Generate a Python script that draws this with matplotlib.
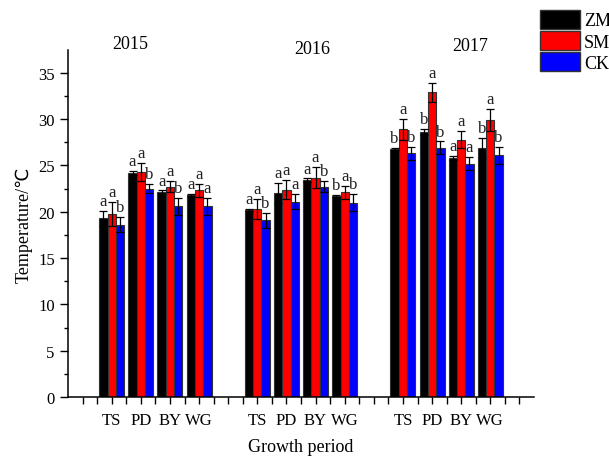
import matplotlib.pyplot as plt
import numpy as np
from matplotlib.patches import Patch

plt.rcParams["font.family"] = ["Liberation Serif", "DejaVu Sans"]

years = ["2015", "2016", "2017"]
periods = ["TS", "PD", "BY", "WG"]
treatments = ["ZM", "SM", "CK"]
colors = ["#000000", "#ff0000", "#0000ff"]

# mean temperature per year, period order TS, PD, BY, WG
zm_mean = [[19.3, 24.2, 22.1, 21.8], [20.2, 22.0, 23.4, 21.7], [26.8, 28.6, 25.8, 26.9]]
sm_mean = [[19.8, 24.3, 22.7, 22.3], [20.3, 22.4, 23.7, 22.1], [28.9, 32.9, 27.8, 29.9]]
ck_mean = [[18.6, 22.5, 20.6, 20.6], [19.1, 21.1, 22.7, 21.0], [26.3, 26.9, 25.2, 26.1]]

zm_sd = [[0.8, 0.2, 0.2, 0.15], [0.1, 1.1, 0.2, 0.1], [0.1, 0.3, 0.2, 1.1]]
sm_sd = [[1.3, 1.0, 0.6, 0.7], [1.1, 1.0, 1.1, 0.7], [1.1, 1.0, 0.9, 1.2]]
ck_sd = [[0.8, 0.5, 0.9, 0.9], [0.8, 0.8, 0.6, 0.9], [0.7, 0.7, 0.7, 0.9]]

zm_sig = [["a", "a", "a", "a"], ["a", "a", "a", "b"], ["b", "b", "a", "b"]]
sm_sig = [["a", "a", "a", "a"], ["a", "a", "a", "a"], ["a", "a", "a", "a"]]
ck_sig = [["b", "b", "b", "a"], ["b", "a", "b", "b"], ["b", "b", "a", "b"]]

means = [zm_mean, sm_mean, ck_mean]
sds = [zm_sd, sm_sd, ck_sd]
sigs = [zm_sig, sm_sig, ck_sig]

# category positions on the x axis: 4 periods per year, gaps between years
year_start = [3, 13, 23]
year_title_x = [4.3, 16.8, 27.6]
year_title_y = [37.2, 36.7, 37.0]
width = 0.57
offsets = [-width, 0.0, width]

fig = plt.figure(figsize=(6.09, 4.6), dpi=100)
ax = fig.add_axes([68 / 609, 62 / 460, 466 / 609, 347.3 / 460])

tick_pos, tick_lab = [], []
for yi, year in enumerate(years):
    x = year_start[yi] + 2 * np.arange(len(periods))
    tick_pos += list(x)
    tick_lab += periods
    for ti in range(3):
        m = np.array(means[ti][yi])
        s = np.array(sds[ti][yi])
        xb = x + offsets[ti]
        ax.bar(xb, m, width=width, color=colors[ti], edgecolor="#333333", linewidth=0.8, zorder=2)
        ax.errorbar(xb, m, yerr=s, fmt="none", ecolor="black", elinewidth=0.9,
                    capsize=3, capthick=0.9, zorder=3)
        for xx, top, lab in zip(xb, m + s, sigs[ti][yi]):
            ax.text(xx, top + 0.2, lab, ha="center", va="bottom", fontsize=12, color="#222222")
    ax.text(year_title_x[yi], year_title_y[yi], year, ha="center", va="bottom", fontsize=13,
            clip_on=False)

ax.set_xlim(0, 32)
ax.set_ylim(0, 37.5)
ax.set_xticks(range(1, 32))
ax.set_xticklabels([tick_lab[tick_pos.index(i)] if i in tick_pos else "" for i in range(1, 32)],
                   fontsize=12)
ax.set_yticks(np.arange(0, 36, 5))
ax.set_yticks(np.arange(2.5, 37.5, 5), minor=True)
ax.tick_params(axis="y", which="major", length=6, width=1, labelsize=12)
ax.tick_params(axis="y", which="minor", length=3, width=1)
ax.tick_params(axis="x", length=5, width=1, pad=6)
for side in ["top", "right"]:
    ax.spines[side].set_visible(False)
for side in ["left", "bottom"]:
    ax.spines[side].set_linewidth(1.1)

ax.set_ylabel("Temperature/℃", fontsize=13, labelpad=4)
ax.set_xlabel("Growth period", fontsize=13, labelpad=7)

handles = [Patch(facecolor=c, edgecolor="#333333", linewidth=1) for c in colors]
fig.legend(handles, treatments, loc="upper left", bbox_to_anchor=(540 / 609, 1 - 11 / 460),
           frameon=False, fontsize=13, handlelength=2.2, handleheight=1.2,
           handletextpad=0.25, labelspacing=0.1, borderpad=0, borderaxespad=0)

fig.savefig("out.png", dpi=100)
